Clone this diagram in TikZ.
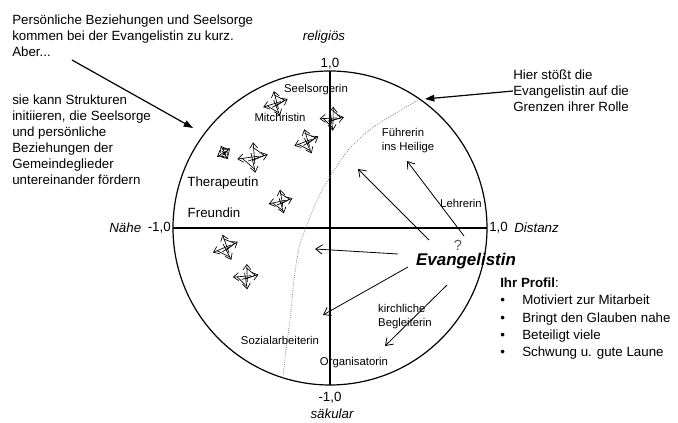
\documentclass[tikz,border=0pt]{standalone}
\usepackage{fontspec}
\setmainfont{Liberation Sans}
\usetikzlibrary{arrows.meta,positioning}

\tikzset{
  note/.style={anchor=north west, inner sep=0pt, align=left, font=\fontsize{10}{12}\selectfont},
  role/.style={inner sep=0pt, align=left, font=\fontsize{8.5}{10.5}\selectfont},
  bigrole/.style={inner sep=0pt, font=\fontsize{10}{12}\selectfont},
  axlabel/.style={inner sep=0pt, font=\fontsize{10}{12}\selectfont\itshape},
  ticklabel/.style={inner sep=0pt, font=\fontsize{10}{12}\selectfont},
  pull/.style={-{Straight Barb[length=5pt,width=7pt]}, line width=0.6pt},
  hint/.style={-{Triangle[length=7pt,width=5pt]}, line width=0.9pt},
  arm/.style={-{Straight Barb[length=4pt,width=6pt]}, line width=0.5pt},
  pinwheel/.pic={
    \draw[arm] (2,5) -- (-1,-13);
    \draw[arm] (5,-2) -- (-13,2);
    \draw[arm] (-4,3) -- (12,-4);
    \draw[arm] (-2,-4) -- (3,12);
    \draw[line width=0.5pt] (-1,-9) -- (9,-3) -- (0,2);
    \draw[line width=0.5pt] (-9,1) -- (2,9);
  }
}

\begin{document}
\begin{tikzpicture}[x=0.75pt, y=-0.75pt]
  \useasboundingbox (0,0) rectangle (678,423);

  \draw[line width=0.9pt] (330,228) circle (157);
  \draw[line width=0.8pt] (173,228) -- (487,228);
  \draw[line width=0.8pt] (330,71) -- (330,385);
  \draw[densely dotted, gray, line width=0.6pt] plot[smooth] coordinates {(418,100) (396,113) (372,128) (350,148) (333,172) (318,198) (307,225) (299,248) (294,280) (290,320) (286,350) (283,378)};

  % axis labels
  \node[ticklabel] (plusy) at (330,64) {1,0};
  \node[axlabel] (relig) at (324,37) {religiös};
  \node[ticklabel] (minusy) at (330,398) {-1,0};
  \node[axlabel] (saek) at (332,414) {säkular};
  \node[ticklabel, anchor=east] (minusx) at (171,228) {-1,0};
  \node[axlabel, left=4.5pt of minusx] (naehe) {Nähe};
  \node[ticklabel, anchor=west] (plusx) at (489,228) {1,0};
  \node[axlabel, right=4.5pt of plusx] (dist) {Distanz};

  % roles
  \node[role] (seels) at (316,90) {Seelsorgerin};
  \node[role] (mitchr) at (280,117) {Mitchristin};
  \node[bigrole] (thera) at (223,183) {Therapeutin};
  \node[bigrole] (freund) at (214,213) {Freundin};
  \node[role] (fuehr) at (408,141) {Führerin\\ins Heilige};
  \node[role] (lehr) at (461,203) {Lehrerin};
  \node[role] (begl) at (405,317) {kirchliche\\Begleiterin};
  \node[role] (sozial) at (280,340) {Sozialarbeiterin};
  \node[role] (organ) at (354,363) {Organisatorin};
  \node[inner sep=0pt, font=\fontsize{11}{13}\selectfont, gray!70!black] (frage) at (458,245) {?};
  \node[inner sep=0pt, font=\fontsize{12.7}{15}\selectfont\bfseries\itshape] (evang) at (466,261) {Evangelistin};

  % pinwheels
  \pic[rotate=5] at (276,104) {pinwheel};
  \pic[rotate=-10, scale=0.95] at (332,119) {pinwheel};
  \pic[rotate=8] at (307,142) {pinwheel};
  \pic[rotate=20, scale=0.6] at (224,153) {pinwheel};
  \pic[rotate=-5, scale=1.2] at (253,158) {pinwheel};
  \pic[rotate=0, scale=0.95] at (281,202) {pinwheel};
  \pic[rotate=10, scale=1.05] at (226,248) {pinwheel};
  \pic[rotate=-8] at (246,277) {pinwheel};

  % arrows from the Evangelistin
  \coordinate (s1) at (429,240);
  \coordinate (s2) at (464,236);
  \coordinate (s3) at (398,254);
  \coordinate (s4) at (408,267);
  \coordinate (s5) at (447,285);
  \coordinate (t1) at (358,169);
  \coordinate (t2) at (407,161);
  \coordinate (t3) at (315,249);
  \coordinate (t4) at (323,315);
  \coordinate (t5) at (385,346);
  \draw[pull] (s1) -- (t1);
  \draw[pull] (s2) -- (t2);
  \draw[pull] (s3) -- (t3);
  \draw[pull] (s4) -- (t4);
  \draw[pull] (s5) -- (t5);

  % notes
  \node[note] (kurz) at (12,15) {Persönliche Beziehungen und Seelsorge\\kommen bei der Evangelistin zu kurz.\\Aber...};
  \node[note] (struk) at (12,95) {sie kann Strukturen\\initiieren, die Seelsorge\\und persönliche\\Beziehungen der\\Gemeindeglieder\\untereinander fördern};
  \node[note, anchor=west] (hier) at (513,91) {Hier stößt die\\Evangelistin auf die\\Grenzen ihrer Rolle};
  \coordinate (aber) at (72,60);
  \coordinate (rand) at (193,128);
  \coordinate (grenze) at (425,99);
  \draw[hint] (aber) -- (rand);
  \draw[hint] (hier.west) -- (grenze);

  \node[note, font=\fontsize{10}{12.8}\selectfont] (profil) at (500,278) {\textbf{Ihr Profil}:\\
    \makebox[16.5pt][l]{\textbullet}Motiviert zur Mitarbeit\\
    \makebox[16.5pt][l]{\textbullet}Bringt den Glauben nahe\\
    \makebox[16.5pt][l]{\textbullet}Beteiligt viele\\
    \makebox[16.5pt][l]{\textbullet}Schwung u. gute Laune};
\end{tikzpicture}
\end{document}
